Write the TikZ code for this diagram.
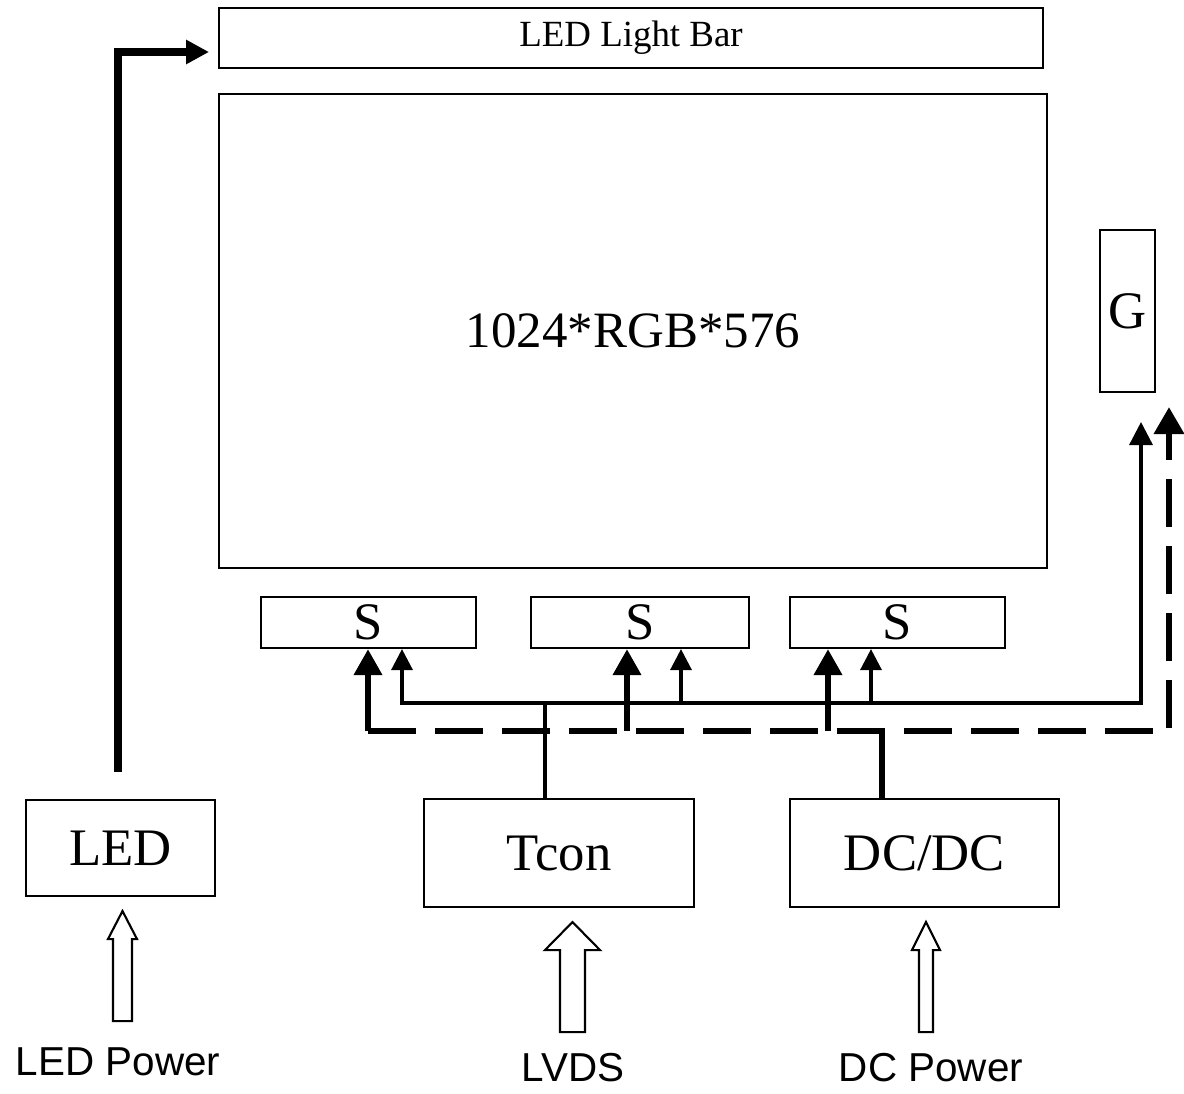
\documentclass[tikz,border=0pt]{standalone}
\usepackage{fontspec}
\setmainfont{Liberation Serif}
\newfontfamily\tagfont{Liberation Sans}
\usetikzlibrary{arrows.meta,calc}
\tikzset{
  blk/.style={draw,line width=1.2pt,inner sep=0pt,font=\fontsize{30}{34}\selectfont},
  sig/.style={line width=1.9pt,-{Triangle[width=0.42cm,length=0.42cm]}},
  sigboth/.style={line width=1.9pt,{Triangle[width=0.42cm,length=0.42cm]}-{Triangle[width=0.46cm,length=0.46cm]}},
  sigline/.style={line width=1.9pt},
  pow/.style={line width=3.7pt,-{Triangle[width=0.54cm,length=0.52cm]}},
  powline/.style={line width=3.7pt},
  powdash/.style={line width=3.7pt,dash pattern=on 0.96cm off 0.38cm,-{Triangle[width=0.58cm,length=0.54cm]}},
  ledarr/.style={line width=4.3pt,-{Triangle[width=0.46cm,length=0.46cm]}},
  hollow/.style={draw,line width=1.2pt,fill=white,line join=miter},
  tag/.style={font=\tagfont\fontsize{23}{27}\selectfont}
}
\begin{document}
\begin{tikzpicture}[x=0.02cm,y=-0.02cm]
  \useasboundingbox (0,0) rectangle (1184,1093);
  % panel and drivers
  \node[blk,minimum width=16.48cm,minimum height=1.2cm,font=\fontsize{21}{25}\selectfont] (bar) at (631,38) {LED Light Bar};
  \node[blk,minimum width=16.56cm,minimum height=9.48cm,font=\fontsize{29}{34}\selectfont] (panel) at (633,331) {1024*RGB*576};
  \node[blk,minimum width=1.1cm,minimum height=3.24cm] (g) at (1127.5,311) {G};
  \node[blk,minimum width=4.3cm,minimum height=1.02cm] (s1) at (368.5,622.5) {S};
  \node[blk,minimum width=4.36cm,minimum height=1.02cm] (s2) at (640,622.5) {S};
  \node[blk,minimum width=4.3cm,minimum height=1.02cm] (s3) at (897.5,622.5) {S};
  \node[blk,minimum width=3.78cm,minimum height=1.92cm] (led) at (120.5,848) {LED};
  \node[blk,minimum width=5.4cm,minimum height=2.16cm] (tcon) at (559,853) {Tcon};
  \node[blk,minimum width=5.38cm,minimum height=2.16cm] (dcdc) at (924.5,853) {DC/DC};
  % inputs
  \node[tag] (ledpow) at (118,1062) {LED Power};
  \node[tag] (lvds) at (573,1068) {LVDS};
  \node[tag] (dcpow) at (931,1068) {DC Power};
  \foreach \b/\dx/\h/\s in {led/2/14.5/9.5,tcon/13.5/27.5/12.5,dcdc/1.5/14/7}
    \draw[hollow] ($(\b.south)+(\dx,14)$) -- ++(\h,28) -- ++({\s-\h},0) -- ++(0,82)
      -- ++({-2*\s},0) -- ++(0,-82) -- ++({\s-\h},0) -- cycle;
  % backlight
  \coordinate (bend) at (118,52);
  \draw[ledarr,shorten <=0.54cm,shorten >=0.18cm] (led.north -| bend) -- (bend) -- (bar.west |- bend);
  % timing bus
  \coordinate (tbus) at (545,703);
  \coordinate (gin) at (1141,422);
  \draw[sigline] (tbus |- tcon.north) -- (tbus);
  \draw[sigboth] (s1.south -| 402,0) -- (402,703) -- (gin |- tbus) -- (gin);
  \foreach \x/\s in {681/s2,871/s3}
    \draw[sig] (\x,703) -- (\s.south -| \x,0);
  % power bus
  \coordinate (dbus) at (882,731);
  \coordinate (gpow) at (1169,407);
  \draw[powline] (dbus |- dcdc.north) -- (dbus);
  \draw[powdash] (368,731) -- (gpow |- dbus) -- (gpow);
  \foreach \x/\s in {368/s1,627/s2,828/s3}
    \draw[pow] (\x,731) -- (\s.south -| \x,0);
\end{tikzpicture}
\end{document}
